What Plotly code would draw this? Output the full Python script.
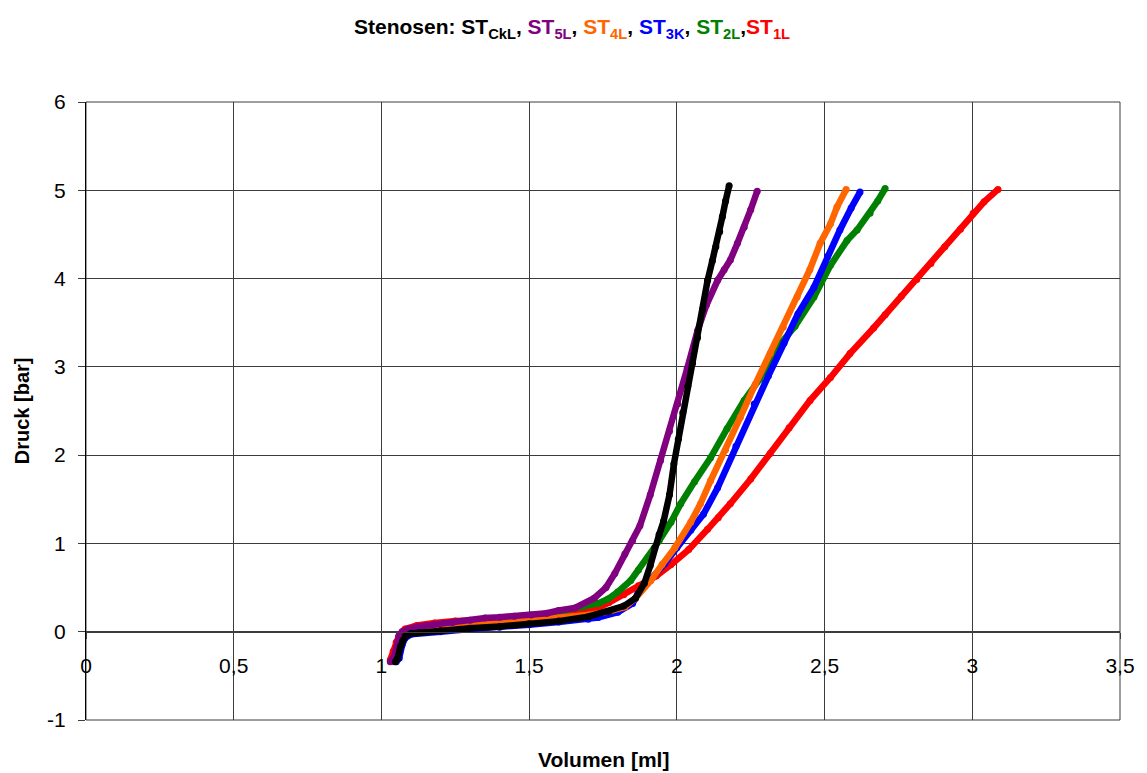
import plotly.graph_objects as go

# ---- data ----
ckl_x = [1.047, 1.055, 1.064, 1.072, 1.081, 1.10, 1.13, 1.20, 1.30, 1.40, 1.50, 1.60, 1.70, 1.77, 1.82,
         1.86, 1.89, 1.91, 1.925, 1.94, 1.955, 1.975, 1.99, 2.005, 2.02, 2.037, 2.053, 2.07, 2.087, 2.104,
         2.12, 2.132, 2.145, 2.154, 2.165, 2.177]
ckl_y = [-0.34, -0.30, -0.17, -0.10, -0.05, -0.02, -0.01, 0.01, 0.04, 0.06, 0.09, 0.12, 0.17, 0.23, 0.29,
         0.38, 0.55, 0.75, 0.95, 1.10, 1.25, 1.55, 1.90, 2.18, 2.48, 2.78, 3.04, 3.33, 3.65, 3.98,
         4.20, 4.36, 4.53, 4.70, 4.88, 5.05]

st5l_x = [1.03, 1.04, 1.047, 1.059, 1.07, 1.09, 1.126, 1.18, 1.24, 1.30, 1.351, 1.40, 1.45, 1.507, 1.56,
          1.60, 1.655, 1.72, 1.76, 1.79, 1.824, 1.85, 1.875, 1.91, 1.945, 1.975, 2.003, 2.035, 2.07, 2.10,
          2.138, 2.16, 2.181, 2.205, 2.228, 2.25, 2.272]
st5l_y = [-0.34, -0.30, -0.24, -0.05, 0.0, 0.03, 0.06, 0.085, 0.105, 0.13, 0.155, 0.165, 0.175, 0.19, 0.21,
          0.24, 0.27, 0.38, 0.50, 0.66, 0.88, 1.03, 1.20, 1.55, 1.94, 2.27, 2.58, 2.98, 3.41, 3.70,
          3.98, 4.10, 4.21, 4.40, 4.58, 4.78, 4.99]

st4l_x = [1.04, 1.05, 1.06, 1.07, 1.09, 1.13, 1.20, 1.30, 1.40, 1.50, 1.60, 1.70, 1.77, 1.824, 1.86,
          1.912, 1.95, 1.993, 2.047, 2.08, 2.114, 2.165, 2.215, 2.265, 2.316, 2.36, 2.407, 2.45, 2.485,
          2.52, 2.542, 2.573]
st4l_y = [-0.34, -0.30, -0.15, -0.05, -0.01, 0.02, 0.04, 0.07, 0.09, 0.12, 0.15, 0.19, 0.23, 0.28, 0.38,
          0.58, 0.76, 0.95, 1.24, 1.45, 1.71, 2.06, 2.43, 2.80, 3.15, 3.45, 3.79, 4.10, 4.40,
          4.62, 4.81, 5.01]

st3k_x = [1.05, 1.06, 1.07, 1.08, 1.10, 1.15, 1.20, 1.30, 1.40, 1.50, 1.60, 1.70, 1.733, 1.80, 1.85,
          1.868, 1.91, 1.959, 2.00, 2.047, 2.09, 2.138, 2.20, 2.262, 2.31, 2.363, 2.41, 2.464, 2.51,
          2.552, 2.59, 2.62]
st3k_y = [-0.34, -0.30, -0.15, -0.07, -0.03, -0.01, 0.0, 0.03, 0.05, 0.08, 0.11, 0.14, 0.16, 0.22, 0.32,
          0.43, 0.58, 0.77, 0.95, 1.15, 1.33, 1.63, 2.10, 2.58, 2.90, 3.27, 3.60, 3.90, 4.25,
          4.55, 4.80, 4.98]

st2l_x = [1.04, 1.05, 1.06, 1.07, 1.09, 1.13, 1.20, 1.30, 1.40, 1.50, 1.56, 1.60, 1.632, 1.68, 1.733,
          1.767, 1.80, 1.844, 1.87, 1.902, 1.94, 1.98, 2.013, 2.06, 2.114, 2.17, 2.228, 2.28, 2.34,
          2.40, 2.464, 2.52, 2.576, 2.61, 2.654, 2.68, 2.705]
st2l_y = [-0.33, -0.28, -0.15, -0.05, 0.0, 0.03, 0.06, 0.10, 0.13, 0.17, 0.20, 0.22, 0.25, 0.28, 0.32,
          0.37, 0.45, 0.58, 0.70, 0.84, 1.03, 1.24, 1.45, 1.70, 1.97, 2.30, 2.62, 2.86, 3.22,
          3.46, 3.79, 4.15, 4.43, 4.55, 4.74, 4.88, 5.02]

st1l_x = [1.03, 1.04, 1.05, 1.06, 1.08, 1.12, 1.18, 1.25, 1.35, 1.45, 1.55, 1.65, 1.72, 1.77, 1.82,
          1.87, 1.93, 1.98, 2.04, 2.104, 2.14, 2.181, 2.25, 2.316, 2.38, 2.451, 2.52, 2.586, 2.666,
          2.705, 2.76, 2.812, 2.86, 2.907, 2.96, 3.003, 3.04, 3.087]
st1l_y = [-0.32, -0.22, -0.12, -0.04, 0.03, 0.07, 0.10, 0.12, 0.13, 0.14, 0.16, 0.20, 0.25, 0.33, 0.42,
          0.52, 0.63, 0.76, 0.93, 1.16, 1.29, 1.45, 1.73, 2.02, 2.31, 2.62, 2.88, 3.15, 3.44,
          3.59, 3.80, 3.99, 4.17, 4.36, 4.56, 4.74, 4.87, 5.01]

x_tickvals = [0, 0.5, 1, 1.5, 2, 2.5, 3, 3.5]
x_ticktext = ["0", "0,5", "1", "1,5", "2", "2,5", "3", "3,5"]
y_tickvals = [-1, 0, 1, 2, 3, 4, 5, 6]
y_ticktext = ["-1", "0", "1", "2", "3", "4", "5", "6"]

series = [
    ("ST1L", st1l_x, st1l_y, "#FF0000"),
    ("ST2L", st2l_x, st2l_y, "#008000"),
    ("ST3K", st3k_x, st3k_y, "#0000FF"),
    ("ST4L", st4l_x, st4l_y, "#FF6600"),
    ("ST5L", st5l_x, st5l_y, "#800080"),
    ("STCkL", ckl_x, ckl_y, "#000000"),
]

FONT = "Liberation Sans, Arial, sans-serif"
GRID = "#3c3c3c"

fig = go.Figure()
for name, xs, ys, col in series:
    fig.add_trace(go.Scatter(
        x=xs, y=ys, name=name, mode="lines+markers",
        line=dict(color=col, width=6.5),
        marker=dict(color=col, size=7),
        showlegend=False,
    ))

title_html = ("<b>Stenosen: ST<sub>CkL</sub>, "
              "<span style='color:#800080'>ST<sub>5L</sub></span>, "
              "<span style='color:#FF6600'>ST<sub>4L</sub></span>, "
              "<span style='color:#0000FF'>ST<sub>3K</sub></span>, "
              "<span style='color:#008000'>ST<sub>2L</sub></span>,"
              "<span style='color:#FF0000'>ST<sub>1L</sub></span></b>")

fig.update_layout(
    width=1147, height=773,
    margin=dict(l=86, r=23, t=102, b=53),
    paper_bgcolor="white", plot_bgcolor="white",
    font=dict(family=FONT, color="black", size=20),
    title=dict(text=title_html, x=0.4987, xref="container", xanchor="center",
               y=1 - 27 / 773, yref="container", yanchor="middle",
               font=dict(family=FONT, size=21, color="black")),
    xaxis=dict(range=[0, 3.5], tickvals=x_tickvals, ticktext=x_ticktext,
               showgrid=True, gridcolor=GRID, gridwidth=1,
               showline=True, linecolor=GRID, linewidth=1,
               ticks="outside", ticklen=6, tickcolor=GRID,
               anchor="free", position=1 / 7, zeroline=False,
               ticklabelstandoff=9,
               tickfont=dict(family=FONT, size=21, color="black")),
    yaxis=dict(range=[-1, 6], tickvals=y_tickvals, ticktext=y_ticktext,
               showgrid=True, gridcolor=GRID, gridwidth=1,
               showline=True, linecolor="black", linewidth=1,
               ticks="outside", ticklen=7, tickcolor=GRID,
               zeroline=False, ticklabelstandoff=8,
               tickfont=dict(family=FONT, size=21, color="black")),
    shapes=[dict(type="rect", xref="paper", yref="paper", x0=0, x1=1, y0=0, y1=1,
                 line=dict(color=GRID, width=1), fillcolor="rgba(0,0,0,0)", layer="below")],
    annotations=[
        dict(text="<b>Volumen [ml]</b>", xref="paper", yref="paper",
             x=(605 - 86) / 1038, y=(720 - 760) / 618, xanchor="center", yanchor="middle",
             showarrow=False, font=dict(family=FONT, size=21, color="black")),
        dict(text="<b>Druck [bar]</b>", xref="paper", yref="paper",
             x=(22 - 86) / 1038, y=(720 - 411) / 618, xanchor="center", yanchor="middle",
             textangle=-90, showarrow=False, font=dict(family=FONT, size=20, color="black")),
    ],
)

fig.write_html("out.html", config={"displayModeBar": False},
               post_script="document.body.style.margin='0';document.body.style.overflow='hidden';")
